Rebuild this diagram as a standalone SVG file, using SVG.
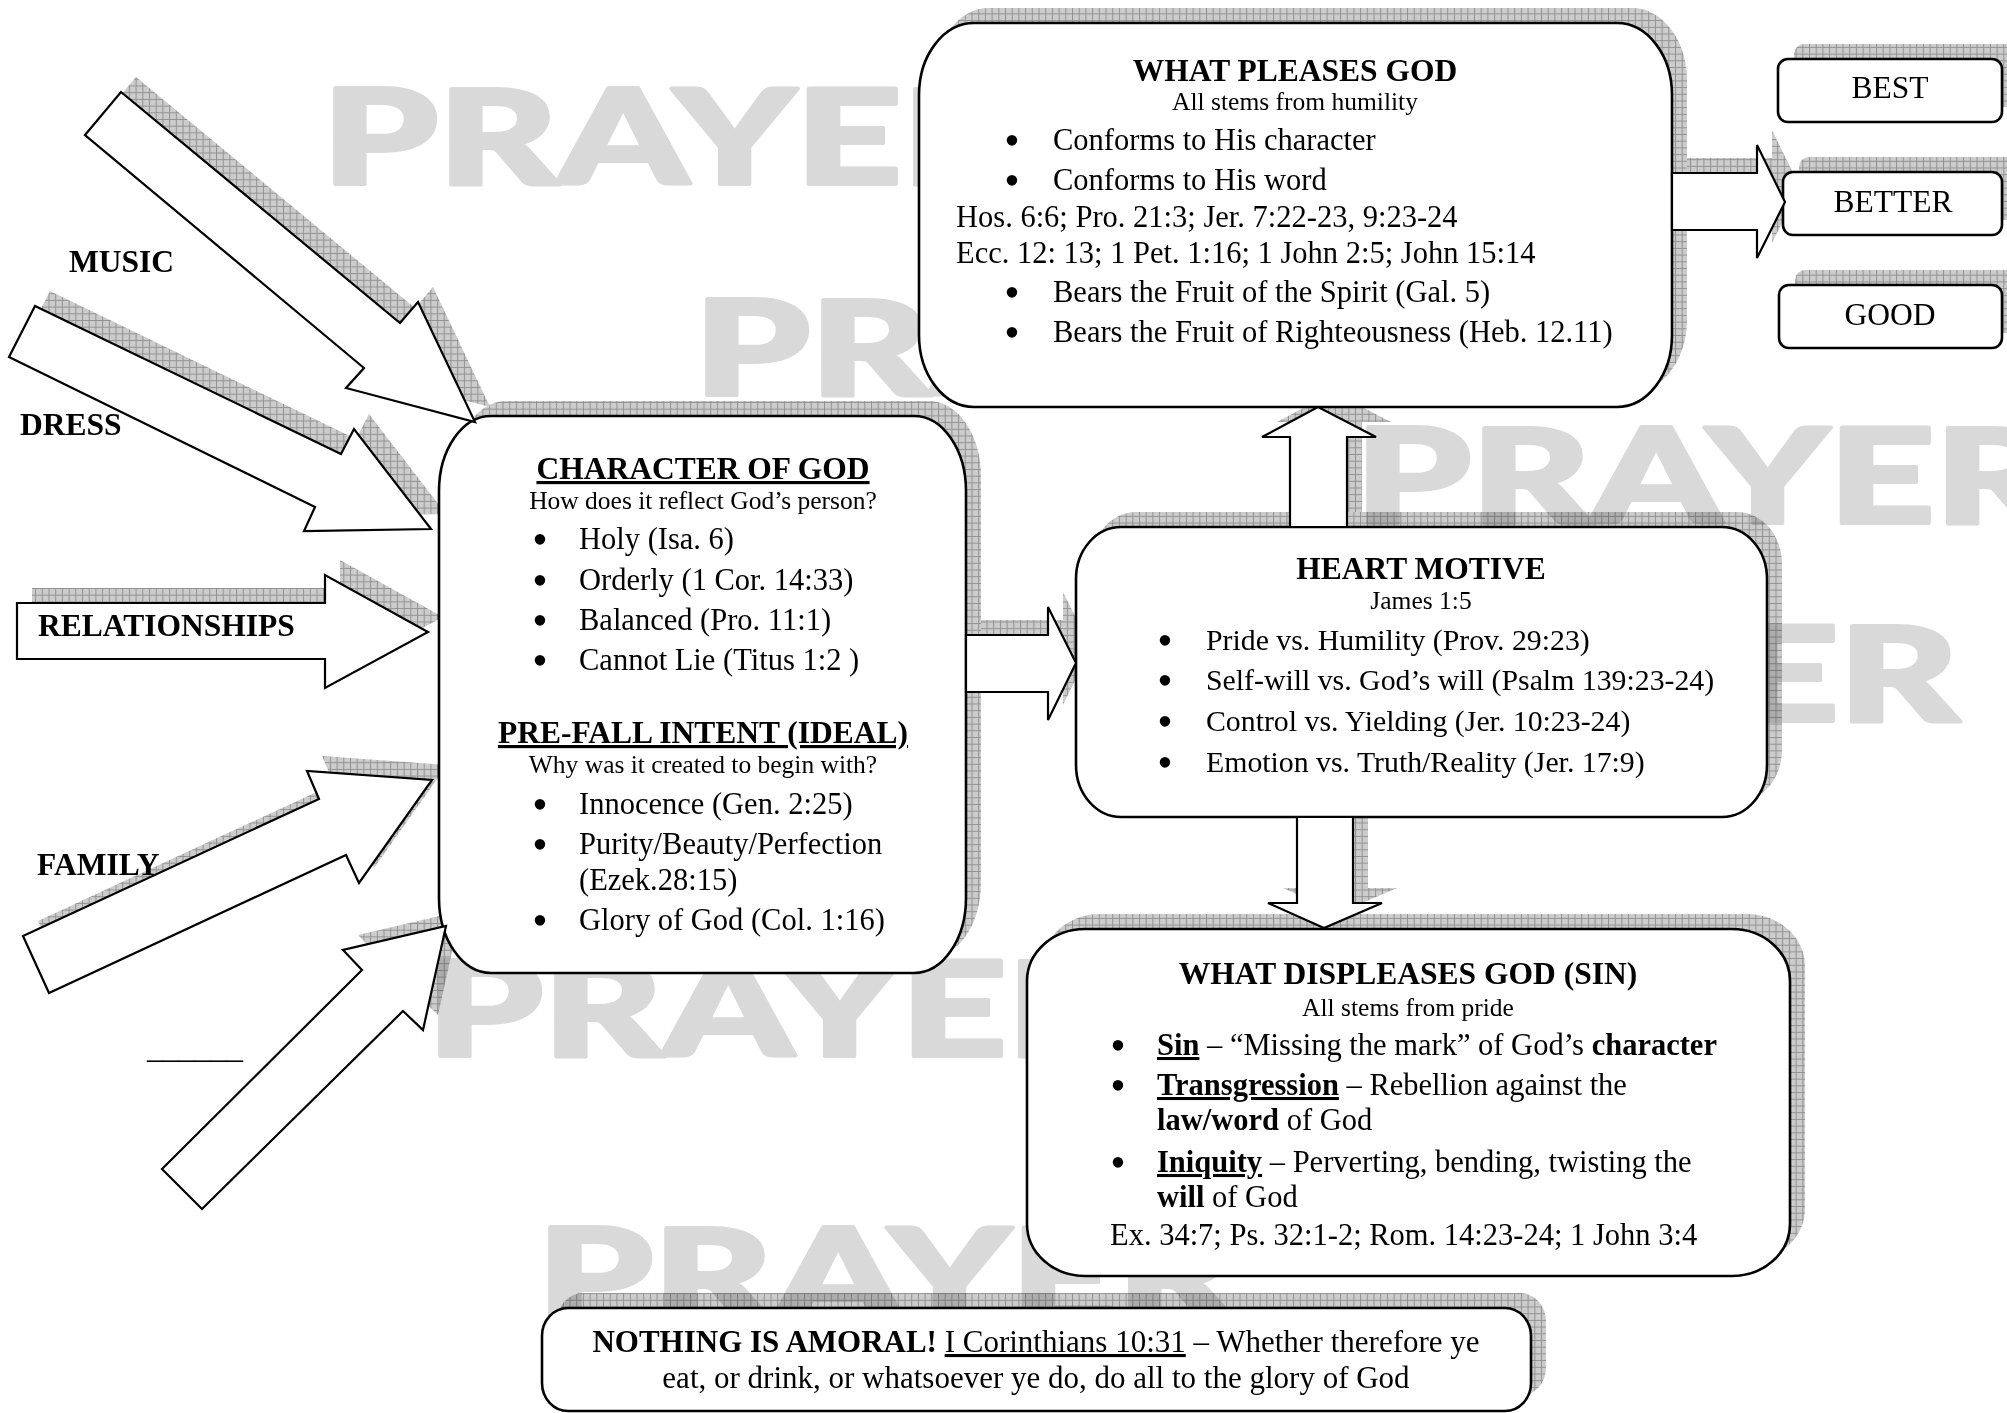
<svg xmlns="http://www.w3.org/2000/svg" width="2007" height="1413" viewBox="0 0 2007 1413">
<defs>
<pattern id="hatch" width="6.7" height="6.7" patternUnits="userSpaceOnUse">
<rect width="6.7" height="6.7" fill="#cccccc"/>
<path d="M0 0.5H6.7M0.5 0V6.7" stroke="#929292" stroke-width="1"/>
</pattern>
<style>
.box{fill:#fff;stroke:#000;stroke-width:2.6}
.arr{fill:#fff;stroke:#000;stroke-width:2.2;stroke-linejoin:miter}
.sh{fill:url(#hatch);stroke:none}
.wm{font-family:"Lato","Liberation Sans",Arial,sans-serif;font-weight:900;font-size:132px;fill:#d9d9d9;stroke:#d9d9d9;stroke-width:4;stroke-linejoin:round}
.t{font-family:"Liberation Serif","Times New Roman",serif;fill:#000}
.h{font-size:31.5px;font-weight:bold;text-anchor:middle}
.s{font-size:25.5px;text-anchor:middle}
.p{font-size:30.5px}
.pm{font-size:29.8px}
.pn{font-size:31px}
.c{text-anchor:middle}
.b{font-weight:bold}
.u{text-decoration:underline}
.bul{font-size:44px;text-anchor:middle}
.lbl{font-size:31.5px;font-weight:bold}
.lv{font-size:31.5px;text-anchor:middle}
</style>
</defs>
<rect width="2007" height="1413" fill="#fff"/>

<g id="watermarks" class="wm">
<text x="322" y="184" textLength="700" lengthAdjust="spacingAndGlyphs">PRAYER</text>
<text x="694" y="395" textLength="700" lengthAdjust="spacingAndGlyphs">PRAYER</text>
<text x="1355" y="523" textLength="700" lengthAdjust="spacingAndGlyphs">PRAYER</text>
<text x="1259" y="721" textLength="700" lengthAdjust="spacingAndGlyphs">PRAYER</text>
<text x="427" y="1056" textLength="700" lengthAdjust="spacingAndGlyphs">PRAYER</text>
<text x="537" y="1323" textLength="700" lengthAdjust="spacingAndGlyphs">PRAYER</text>
</g>

<g id="shadows" style="mix-blend-mode:multiply">
<rect class="sh" x="934" y="8" width="753" height="384" rx="55" ry="72"/>
<rect class="sh" x="454" y="401" width="527" height="557" rx="52" ry="75"/>
<rect class="sh" x="1091" y="512" width="691" height="290" rx="45" ry="52"/>
<rect class="sh" x="1042" y="914" width="763" height="347" rx="58" ry="52"/>
<rect class="sh" x="557" y="1293" width="989" height="103" rx="26" ry="28"/>
<rect class="sh" x="1794" y="44" width="224" height="63" rx="10" ry="10"/>
<rect class="sh" x="1799" y="157" width="219" height="63" rx="10" ry="10"/>
<rect class="sh" x="1795" y="270" width="223" height="63" rx="10" ry="10"/>
<g transform="translate(15,-15)">
<polygon class="sh" points="85,135 121,92 400,323 418,302 475,422 346,388 364,368"/>
<polygon class="sh" points="9,357 35,306 341,454 354,429 431,529 304,531 315,507"/>
<polygon class="sh" points="17,603 325,603 325,575 428,632 325,688 325,659 17,659"/>
<polygon class="sh" points="49,993 23,936 319,799 307,771 432,780 359,883 346,855"/>
<polygon class="sh" points="162,1169 362,970 343,950 446,926 423,1030 403,1011 202,1209"/>
<polygon class="sh" points="966,635 1048,635 1048,607 1076,663 1048,720 1048,692 966,692"/>
<polygon class="sh" points="1290,527 1290,437 1262,437 1318,407 1376,437 1347,437 1347,527"/>
<polygon class="sh" points="1297,817 1353,817 1353,903 1382,903 1324,928 1268,903 1297,903"/>
<polygon class="sh" points="1672,173 1757,173 1757,145 1785,202 1757,258 1757,230 1672,230"/>
</g>
</g>

<g id="node-pleases">
<rect class="box" x="919" y="23" width="753" height="384" rx="55" ry="72"/>
<text class="t h" x="1295" y="81">WHAT PLEASES GOD</text>
<text class="t s" x="1295" y="110">All stems from humility</text>
<text class="t bul" x="1012" y="155">•</text>
<text class="t p" x="1053" y="150">Conforms to His character</text>
<text class="t bul" x="1012" y="195">•</text>
<text class="t p" x="1053" y="190">Conforms to His word</text>
<text class="t p" x="956" y="227">Hos. 6:6; Pro. 21:3; Jer. 7:22-23, 9:23-24</text>
<text class="t p" x="956" y="263">Ecc. 12: 13; 1 Pet. 1:16; 1 John 2:5; John 15:14</text>
<text class="t bul" x="1012" y="307">•</text>
<text class="t p" x="1053" y="302">Bears the Fruit of the Spirit (Gal. 5)</text>
<text class="t bul" x="1012" y="347">•</text>
<text class="t p" x="1053" y="342">Bears the Fruit of Righteousness (Heb. 12.11)</text>
</g>

<g id="node-character">
<rect class="box" x="439" y="416" width="527" height="557" rx="52" ry="75"/>
<text class="t h u" x="703" y="479">CHARACTER OF GOD</text>
<text class="t s" x="703" y="509">How does it reflect God’s person?</text>
<text class="t bul" x="540" y="554">•</text>
<text class="t p" x="579" y="549">Holy (Isa. 6)</text>
<text class="t bul" x="540" y="595">•</text>
<text class="t p" x="579" y="590">Orderly (1 Cor. 14:33)</text>
<text class="t bul" x="540" y="635">•</text>
<text class="t p" x="579" y="630">Balanced (Pro. 11:1)</text>
<text class="t bul" x="540" y="675">•</text>
<text class="t p" x="579" y="670">Cannot Lie (Titus 1:2 )</text>
<text class="t h u" x="703" y="743">PRE-FALL INTENT (IDEAL)</text>
<text class="t s" x="703" y="773">Why was it created to begin with?</text>
<text class="t bul" x="540" y="819">•</text>
<text class="t p" x="579" y="814">Innocence (Gen. 2:25)</text>
<text class="t bul" x="540" y="859">•</text>
<text class="t p" x="579" y="854">Purity/Beauty/Perfection</text>
<text class="t p" x="579" y="890">(Ezek.28:15)</text>
<text class="t bul" x="540" y="935">•</text>
<text class="t p" x="579" y="930">Glory of God (Col. 1:16)</text>
</g>

<g id="node-heart">
<rect class="box" x="1076" y="527" width="691" height="290" rx="45" ry="52"/>
<text class="t h" x="1421" y="579">HEART MOTIVE</text>
<text class="t s" x="1421" y="609">James 1:5</text>
<text class="t bul" x="1165" y="655">•</text>
<text class="t pm" x="1206" y="650">Pride vs. Humility (Prov. 29:23)</text>
<text class="t bul" x="1165" y="695">•</text>
<text class="t pm" x="1206" y="690">Self-will vs. God’s will (Psalm 139:23-24)</text>
<text class="t bul" x="1165" y="736">•</text>
<text class="t pm" x="1206" y="731">Control vs. Yielding (Jer. 10:23-24)</text>
<text class="t bul" x="1165" y="777">•</text>
<text class="t pm" x="1206" y="772">Emotion vs. Truth/Reality (Jer. 17:9)</text>
</g>

<g id="node-displeases">
<rect class="box" x="1027" y="929" width="763" height="347" rx="58" ry="52"/>
<text class="t h" x="1408" y="984">WHAT DISPLEASES GOD (SIN)</text>
<text class="t s" x="1408" y="1016">All stems from pride</text>
<text class="t bul" x="1118" y="1060">•</text>
<text class="t p" x="1157" y="1055"><tspan class="b u">Sin</tspan> – “Missing the mark” of God’s <tspan class="b">character</tspan></text>
<text class="t bul" x="1118" y="1100">•</text>
<text class="t p" x="1157" y="1095"><tspan class="b u">Transgression</tspan> – Rebellion against the</text>
<text class="t p" x="1157" y="1130"><tspan class="b">law/word</tspan> of God</text>
<text class="t bul" x="1118" y="1177">•</text>
<text class="t p" x="1157" y="1172"><tspan class="b u">Iniquity</tspan> – Perverting, bending, twisting the</text>
<text class="t p" x="1157" y="1207"><tspan class="b">will</tspan> of God</text>
<text class="t p" x="1110" y="1245">Ex. 34:7; Ps. 32:1-2; Rom. 14:23-24; 1 John 3:4</text>
</g>

<g id="node-nothing">
<rect class="box" x="542" y="1308" width="989" height="103" rx="26" ry="28"/>
<text class="t pn c" x="1036" y="1352"><tspan class="b">NOTHING IS AMORAL!</tspan> <tspan class="u">I Corinthians 10:31</tspan> – Whether therefore ye</text>
<text class="t pn c" x="1036" y="1388">eat, or drink, or whatsoever ye do, do all to the glory of God</text>
</g>

<g id="node-best">
<rect class="box" x="1778" y="59" width="224" height="63" rx="10" ry="10"/>
<text class="t lv" x="1890" y="98">BEST</text>
</g>
<g id="node-better">
<rect class="box" x="1783" y="172" width="219" height="63" rx="10" ry="10"/>
<text class="t lv" x="1893" y="212">BETTER</text>
</g>
<g id="node-good">
<rect class="box" x="1779" y="285" width="223" height="63" rx="10" ry="10"/>
<text class="t lv" x="1890" y="325">GOOD</text>
</g>

<g id="connectors">
<polygon class="arr" points="85,135 121,92 400,323 418,302 475,422 346,388 364,368"/>
<polygon class="arr" points="9,357 35,306 341,454 354,429 431,529 304,531 315,507"/>
<polygon class="arr" points="17,603 325,603 325,575 428,632 325,688 325,659 17,659"/>
<polygon class="arr" points="49,993 23,936 319,799 307,771 432,780 359,883 346,855"/>
<polygon class="arr" points="162,1169 362,970 343,950 446,926 423,1030 403,1011 202,1209"/>
<polygon class="arr" points="966,635 1048,635 1048,607 1076,663 1048,720 1048,692 966,692"/>
<polygon class="arr" points="1290,527 1290,437 1262,437 1318,407 1376,437 1347,437 1347,527"/>
<polygon class="arr" points="1297,817 1353,817 1353,903 1382,903 1324,928 1268,903 1297,903"/>
<polygon class="arr" points="1672,173 1757,173 1757,145 1785,202 1757,258 1757,230 1672,230"/>
</g>

<g id="node-music"><text class="t lbl" x="69" y="272">MUSIC</text></g>
<g id="node-dress"><text class="t lbl" x="20" y="435">DRESS</text></g>
<g id="node-relationships"><text class="t lbl" x="38" y="636">RELATIONSHIPS</text></g>
<g id="node-family"><text class="t lbl" x="37" y="875">FAMILY</text></g>
<g id="node-blank"><text class="t p" x="147" y="1058" textLength="96" lengthAdjust="spacingAndGlyphs">______</text></g>
</svg>
